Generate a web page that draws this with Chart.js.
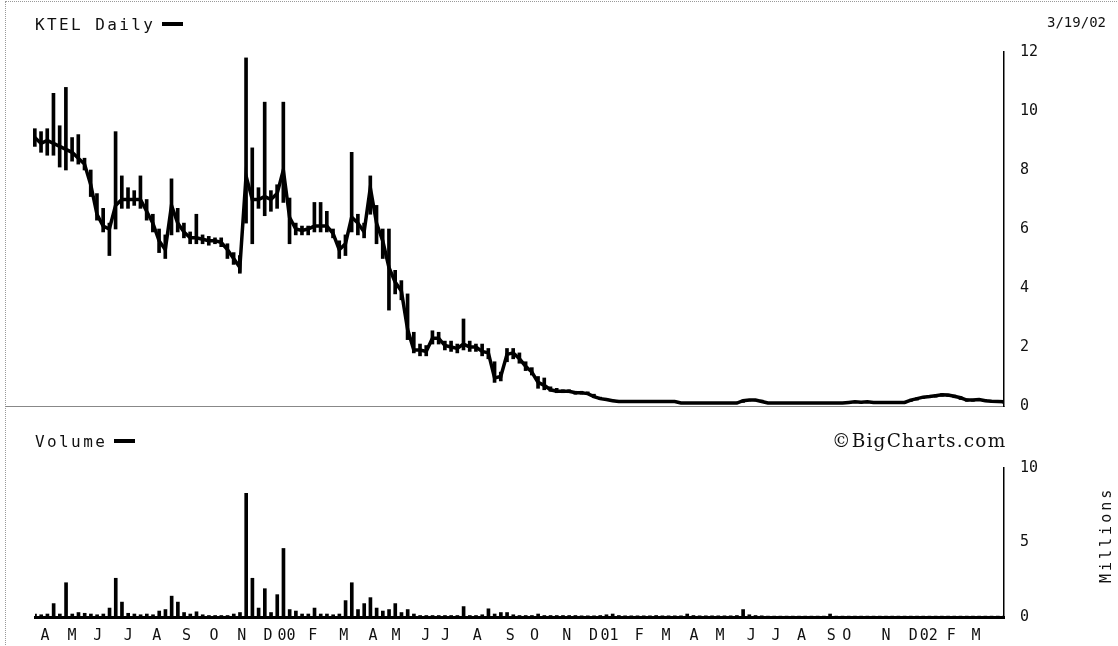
<!DOCTYPE html>
<html>
<head>
<meta charset="utf-8">
<title>KTEL Daily</title>
<script src="https://cdn.jsdelivr.net/npm/chart.js@4.4.1/dist/chart.umd.min.js"></script>
<style>
    html, body { margin: 0; padding: 0; background: #fff; }
    #page { position: relative; width: 1118px; height: 646px; overflow: hidden; font-family: 'DejaVu Sans Mono', monospace; color: #111; }
    #frame { position: absolute; left: 5px; top: 1px; width: 1113px; height: 645px; border-top: 1px dotted #999; border-left: 1px dotted #999; }
    .box { position: absolute; left: 0; width: 1118px; }
    #priceBox { top: 0; height: 420px; }
    #volBox { top: 420px; height: 226px; }
    .lbl { position: absolute; font-size: 16px; letter-spacing: 2.4px; white-space: nowrap; }
    .key { display: inline-block; width: 21px; height: 4px; background: #000; vertical-align: middle; margin-left: 7px; margin-top: -3px; }
</style>
</head>
<body>
<div id="page">
    <div id="frame"></div>
    <div class="box" id="priceBox"><canvas id="prixChart"></canvas></div>
    <div class="box" id="volBox"><canvas id="volumeChart"></canvas></div>

    <div class="lbl" style="left:35px; top:15px;">KTEL Daily<span class="key"></span></div>
    <div class="lbl" style="left:1047px; top:14px; font-size:14px; letter-spacing:0;">3/19/02</div>
    <div class="lbl" style="left:35px; top:432px;">Volume<span class="key"></span></div>
    <div class="lbl" style="left:832px; top:430px; font-family:'DejaVu Serif', serif; font-size:18.5px; letter-spacing:1.2px;">©BigCharts.com</div>
    <div class="lbl" style="left:1058px; top:526px; font-size:15px; letter-spacing:3px; transform:rotate(-90deg); transform-origin:center; width:96px; text-align:center;">Millions</div>
</div>

<script>
// une valeur par semaine, du 22/3/99 au 18/3/02 (157 semaines)
const clotures = [
    9.1, 8.9, 9.0, 8.9, 8.8, 8.7, 8.6, 8.4, 8.2, 7.5,
    6.5, 6.1, 6.0, 6.8, 7.0, 7.0, 7.0, 7.0, 6.6, 6.2,
    5.6, 5.3, 6.8, 6.2, 5.9, 5.7, 5.7, 5.65, 5.6, 5.6,
    5.55, 5.3, 5.0, 4.7, 7.8, 7.0, 7.0, 7.1, 7.0, 7.2,
    8.0, 6.4, 6.0, 5.95, 6.0, 6.1, 6.1, 6.1, 5.85, 5.3,
    5.5, 6.4, 6.2, 5.9, 7.4, 6.2, 5.6, 4.7, 4.2, 3.9,
    2.6, 1.9, 1.9, 1.85, 2.3, 2.3, 2.05, 2.0, 1.95, 2.1,
    2.0, 2.0, 1.85, 1.8, 0.95, 1.0, 1.75, 1.8, 1.6, 1.35,
    1.15, 0.8, 0.7, 0.55, 0.5, 0.5, 0.5, 0.45, 0.45, 0.42,
    0.32, 0.25, 0.22, 0.18, 0.15, 0.15, 0.15, 0.15, 0.15, 0.15,
    0.15, 0.15, 0.15, 0.15, 0.1, 0.1, 0.1, 0.1, 0.1, 0.1,
    0.1, 0.1, 0.1, 0.1, 0.18, 0.2, 0.2, 0.15, 0.1, 0.1,
    0.1, 0.1, 0.1, 0.1, 0.1, 0.1, 0.1, 0.1, 0.1, 0.1,
    0.1, 0.12, 0.14, 0.13, 0.14, 0.12, 0.12, 0.12, 0.12, 0.12,
    0.12, 0.2, 0.25, 0.3, 0.32, 0.35, 0.38, 0.37, 0.33, 0.28,
    0.2, 0.2, 0.22, 0.18, 0.16, 0.15, 0.14
];

const hauts = [
    9.4, 9.3, 9.4, 10.6, 9.5, 10.8, 9.1, 9.2, 8.4, 8.0,
    7.2, 6.7, 6.2, 9.3, 7.8, 7.4, 7.3, 7.8, 7.0, 6.5,
    6.0, 5.8, 7.7, 6.7, 6.2, 5.9, 6.5, 5.8, 5.75, 5.7,
    5.7, 5.5, 5.2, 5.1, 11.8, 8.75, 7.4, 10.3, 7.3, 7.5,
    10.3, 7.05, 6.2, 6.1, 6.1, 6.9, 6.9, 6.6, 6.0, 5.6,
    5.8, 8.6, 6.5, 6.2, 7.8, 6.8, 6.0, 6.0, 4.6, 4.25,
    3.8, 2.5, 2.1, 2.05, 2.55, 2.5, 2.2, 2.2, 2.1, 2.95,
    2.2, 2.1, 2.1, 1.95, 1.5, 1.15, 1.95, 1.95, 1.8, 1.5,
    1.3, 1.0, 0.95, 0.65, 0.6, 0.55, 0.55, 0.5, 0.5, 0.48,
    0.4, 0.3, 0.26, 0.22, 0.17, 0.17, 0.17, 0.17, 0.17, 0.17,
    0.17, 0.17, 0.17, 0.17, 0.12, 0.12, 0.12, 0.12, 0.12, 0.12,
    0.12, 0.12, 0.12, 0.12, 0.2, 0.22, 0.22, 0.2, 0.12, 0.12,
    0.12, 0.12, 0.12, 0.12, 0.12, 0.12, 0.12, 0.12, 0.12, 0.12,
    0.12, 0.15, 0.16, 0.15, 0.16, 0.14, 0.14, 0.14, 0.14, 0.14,
    0.14, 0.23, 0.28, 0.33, 0.35, 0.38, 0.42, 0.4, 0.37, 0.32,
    0.24, 0.23, 0.25, 0.22, 0.19, 0.18, 0.17
];

const bas = [
    8.8, 8.6, 8.5, 8.5, 8.1, 8.0, 8.3, 8.2, 8.0, 7.1,
    6.3, 5.9, 5.1, 6.0, 6.7, 6.7, 6.8, 6.7, 6.3, 5.9,
    5.2, 5.0, 5.8, 5.9, 5.7, 5.5, 5.5, 5.5, 5.45, 5.5,
    5.4, 5.0, 4.8, 4.5, 6.2, 5.5, 6.7, 6.45, 6.6, 6.7,
    6.9, 5.5, 5.8, 5.8, 5.8, 5.9, 5.9, 5.9, 5.7, 5.0,
    5.1, 5.9, 5.8, 5.7, 6.5, 5.5, 5.0, 3.25, 3.8, 3.6,
    2.25, 1.8, 1.7, 1.7, 2.1, 2.1, 1.9, 1.85, 1.8, 1.9,
    1.85, 1.85, 1.7, 1.6, 0.8, 0.85, 1.5, 1.6, 1.45, 1.2,
    1.05, 0.6, 0.55, 0.5, 0.45, 0.45, 0.45, 0.4, 0.4, 0.4,
    0.28, 0.22, 0.18, 0.15, 0.13, 0.13, 0.13, 0.13, 0.13, 0.13,
    0.13, 0.13, 0.13, 0.13, 0.08, 0.08, 0.08, 0.08, 0.08, 0.08,
    0.08, 0.08, 0.08, 0.08, 0.12, 0.17, 0.17, 0.12, 0.08, 0.08,
    0.08, 0.08, 0.08, 0.08, 0.08, 0.08, 0.08, 0.08, 0.08, 0.08,
    0.08, 0.1, 0.11, 0.1, 0.11, 0.1, 0.1, 0.1, 0.1, 0.1,
    0.1, 0.15, 0.2, 0.26, 0.28, 0.3, 0.33, 0.32, 0.28, 0.22,
    0.16, 0.16, 0.18, 0.15, 0.13, 0.12, 0.1
];

// volume en millions
const volumes = [
    0.2, 0.15, 0.2, 0.9, 0.2, 2.3, 0.2, 0.3, 0.25, 0.2,
    0.15, 0.2, 0.6, 2.6, 1.0, 0.25, 0.2, 0.15, 0.2, 0.15,
    0.4, 0.5, 1.4, 1.0, 0.3, 0.2, 0.35, 0.15, 0.1, 0.1,
    0.1, 0.1, 0.2, 0.3, 8.3, 2.6, 0.6, 1.9, 0.3, 1.5,
    4.6, 0.5, 0.4, 0.2, 0.2, 0.6, 0.2, 0.2, 0.15, 0.2,
    1.1, 2.3, 0.5, 0.9, 1.3, 0.6, 0.4, 0.5, 0.9, 0.3,
    0.5, 0.2, 0.1, 0.1, 0.1, 0.1, 0.1, 0.1, 0.1, 0.7,
    0.1, 0.1, 0.15, 0.55, 0.2, 0.3, 0.3, 0.15, 0.1, 0.1,
    0.1, 0.2, 0.1, 0.1, 0.1, 0.1, 0.1, 0.1, 0.08, 0.08,
    0.08, 0.1, 0.15, 0.2, 0.1, 0.08, 0.08, 0.08, 0.08, 0.08,
    0.1, 0.08, 0.08, 0.08, 0.08, 0.2, 0.1, 0.08, 0.08, 0.08,
    0.08, 0.08, 0.08, 0.1, 0.5, 0.15, 0.1, 0.08, 0.06, 0.06,
    0.06, 0.06, 0.06, 0.06, 0.06, 0.06, 0.06, 0.06, 0.2, 0.06,
    0.06, 0.06, 0.06, 0.06, 0.06, 0.06, 0.06, 0.06, 0.06, 0.06,
    0.06, 0.06, 0.06, 0.06, 0.06, 0.06, 0.06, 0.06, 0.06, 0.06,
    0.06, 0.06, 0.06, 0.06, 0.06, 0.06, 0.06
];

// étiquettes des mois et leur position (en semaines depuis le début)
const moisLabels = ['A', 'M', 'J', 'J', 'A', 'S', 'O', 'N', 'D', '00', 'F', 'M',
    'A', 'M', 'J', 'J', 'A', 'S', 'O', 'N', 'D', '01', 'F', 'M',
    'A', 'M', 'J', 'J', 'A', 'S', 'O', 'N', 'D', '02', 'F', 'M'];
const moisSemaines = [1.6, 5.95, 10.1, 15.0, 19.6, 24.4, 28.8, 33.3, 37.5, 40.5, 44.7, 49.7,
    54.4, 58.1, 62.9, 66.1, 71.2, 76.5, 80.4, 85.6, 89.9, 92.5, 97.3, 101.6,
    106.1, 110.3, 115.3, 119.3, 123.4, 128.2, 130.7, 137.0, 141.4, 143.9, 147.5, 151.5];

const prixTicks = [0, 2, 4, 6, 8, 10, 12];
const volumeTicks = [0, 5, 10];

const police = { family: 'DejaVu Sans Mono', size: 15 };

// graduations invisibles : elles ne servent qu'à décaler les étiquettes de l'axe
const grilleY = { display: true, drawOnChartArea: false, drawTicks: true, tickLength: 11, color: 'rgba(0,0,0,0)' };

function afficherPrixChart() {
    const ctx = document.getElementById('prixChart').getContext('2d');
    new Chart(ctx, {
        type: 'bar',
        data: {
            datasets: [{
                type: 'line',
                label: 'Clôture',
                data: clotures.map((c, i) => ({ x: i, y: c })),
                borderColor: '#000',
                borderWidth: 3.5,
                pointRadius: 0,
                tension: 0,
                order: 0
            }, {
                label: 'Haut/Bas',
                data: bas.map((b, i) => ({ x: i, y: [b, hauts[i]] })),
                backgroundColor: '#000',
                barThickness: 3,
                order: 1
            }]
        },
        options: {
            responsive: true,
            maintainAspectRatio: false,
            animation: false,
            layout: { padding: { left: 5, top: 52, right: 0, bottom: 14 } },
            plugins: { legend: { display: false }, tooltip: { enabled: false } },
            scales: {
                x: {
                    type: 'linear',
                    min: -4.8,
                    max: 156,
                    offset: false,
                    grid: { display: false, drawTicks: false },
                    ticks: { display: false },
                    border: { display: true, color: '#888', width: 1, dash: [1, 1] },
                    afterFit: s => { s.height = 0; }
                },
                y: {
                    position: 'right',
                    min: 0,
                    max: 12,
                    grid: grilleY,
                    border: { display: true, color: '#000', width: 1.5 },
                    afterBuildTicks: s => { s.ticks = prixTicks.map(v => ({ value: v })); },
                    ticks: { font: police, color: '#111', padding: 5 },
                    afterFit: s => { s.width = 114; }
                }
            }
        }
    });
}

function afficherVolumeChart() {
    const ctx = document.getElementById('volumeChart').getContext('2d');
    new Chart(ctx, {
        type: 'bar',
        data: {
            datasets: [{
                label: 'Volume',
                data: volumes.map((v, i) => ({ x: i, y: v })),
                backgroundColor: '#000',
                barThickness: 3
            }]
        },
        options: {
            responsive: true,
            maintainAspectRatio: false,
            animation: false,
            layout: { padding: { left: 35, top: 48, right: 0, bottom: 0 } },
            plugins: { legend: { display: false }, tooltip: { enabled: false } },
            scales: {
                x: {
                    type: 'linear',
                    min: 0,
                    max: 156,
                    offset: false,
                    grid: { display: false, drawTicks: false },
                    border: { display: true, color: '#000', width: 3 },
                    afterBuildTicks: s => { s.ticks = moisSemaines.map(v => ({ value: v })); },
                    ticks: {
                        autoSkip: false,
                        maxRotation: 0,
                        font: police,
                        color: '#111',
                        padding: 10,
                        callback: (v, i) => moisLabels[i]
                    },
                    afterFit: s => { s.height = 29; }
                },
                y: {
                    position: 'right',
                    min: 0,
                    max: 10,
                    grid: grilleY,
                    border: { display: true, color: '#000', width: 1.5 },
                    afterBuildTicks: s => { s.ticks = volumeTicks.map(v => ({ value: v })); },
                    ticks: { font: police, color: '#111', padding: 5 },
                    afterFit: s => { s.width = 114; }
                }
            }
        }
    });
}

document.addEventListener('DOMContentLoaded', () => {
    afficherPrixChart();
    afficherVolumeChart();
});
</script>
</body>
</html>
